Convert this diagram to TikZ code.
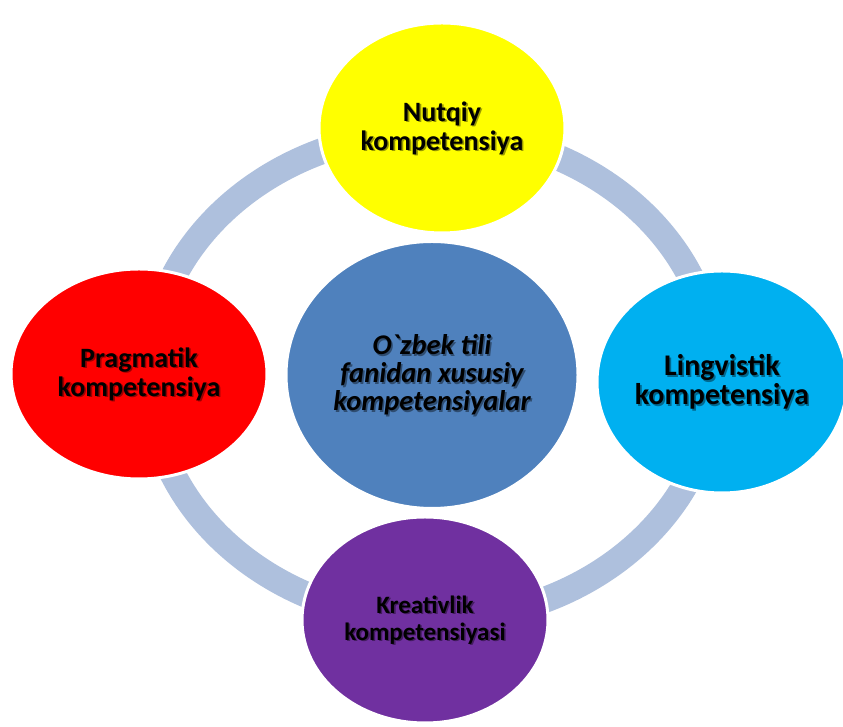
\documentclass[tikz,border=0pt]{standalone}
\usepackage{fontspec}
\setmainfont{Carlito}
\usetikzlibrary{shapes.geometric}
\definecolor{ringc}{RGB}{174,192,221}
\definecolor{cyel}{RGB}{255,255,0}
\definecolor{ccya}{RGB}{0,176,240}
\definecolor{cred}{RGB}{255,0,0}
\definecolor{cpur}{RGB}{112,48,160}
\definecolor{cblu}{RGB}{79,129,189}
\newcommand{\lblfont}{\bfseries\fontsize{28}{29}\selectfont}
\newcommand{\rgtfont}{\bfseries\fontsize{30}{29}\selectfont}
\newcommand{\botfont}{\bfseries\fontsize{25}{27}\selectfont}
\newcommand{\ctrfont}{\bfseries\itshape\fontsize{28.5}{28}\selectfont}
\begin{document}
\begin{tikzpicture}[x=1pt,y=1pt,
  blob/.style={ellipse, draw=white, line width=3pt, inner sep=0pt},
  lbl/.style={align=center, text=black, inner sep=0pt},
  shd/.style={lbl, text=black, opacity=0.4}]
\useasboundingbox (0,0) rectangle (843,727);
\fill[white] (0,0) rectangle (843,727);
% ring
\draw[ringc, line width=26pt] (432,351) ellipse [x radius=283, y radius=244];
% circles
\node[blob, fill=cyel, minimum width=246, minimum height=210] (top) at (442,599) {};
\node[blob, fill=ccya, minimum width=250, minimum height=222] (right) at (722,345) {};
\node[blob, fill=cred, minimum width=256, minimum height=210] (left) at (139,353) {};
\node[blob, fill=cpur, minimum width=246, minimum height=206] (bottom) at (425,107) {};
\node[blob, fill=cblu, minimum width=292, minimum height=267] (center) at (432,352) {};
% labels with shadow
\node[shd, font=\lblfont] (topS) at ([shift={(1.6,-1.6)}]top.center) {Nutqiy\\kompetensiya};
\node[lbl, font=\lblfont] (topT) at (top.center) {Nutqiy\\kompetensiya};
\node[shd, font=\rgtfont] (rightS) at ([shift={(1.6,-1.6)}]right.center) {Lingvistik\\kompetensiya};
\node[lbl, font=\rgtfont] (rightT) at (right.center) {Lingvistik\\kompetensiya};
\node[shd, font=\lblfont] (leftS) at ([shift={(1.6,-1.6)}]left.center) {Pragmatik\\kompetensiya};
\node[lbl, font=\lblfont] (leftT) at (left.center) {Pragmatik\\kompetensiya};
\node[shd, font=\botfont] (bottomS) at ([shift={(1.6,-1.6)}]bottom.center) {Kreativlik\\kompetensiyasi};
\node[lbl, font=\botfont] (bottomT) at (bottom.center) {Kreativlik\\kompetensiyasi};
\node[shd, font=\ctrfont] (centerS) at ([shift={(1.6,-1.6)}]center.center) {O\textasciigrave zbek tili\\fanidan xususiy\\kompetensiyalar};
\node[lbl, font=\ctrfont] (centerT) at (center.center) {O\textasciigrave zbek tili\\fanidan xususiy\\kompetensiyalar};
\end{tikzpicture}
\end{document}
